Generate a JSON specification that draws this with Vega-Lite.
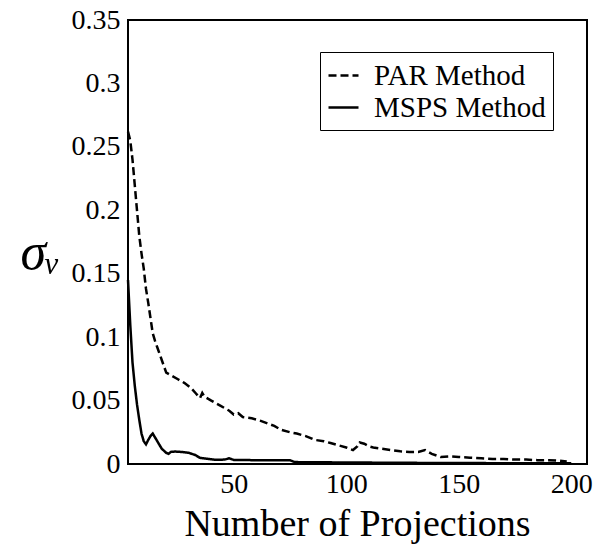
{
  "$schema": "https://vega.github.io/schema/vega-lite/v6.json",
  "width": 459,
  "height": 444,
  "autosize": {"type": "none"},
  "padding": {"left": 128, "top": 20, "right": 15, "bottom": 88},
  "background": "white",
  "config": {"view": {"stroke": "black", "strokeWidth": 2}, "font": "Liberation Serif"},
  "data": {"values": [
    {"n": 3, "v": 0.262, "m": "PAR Method"},
    {"n": 4, "v": 0.255, "m": "PAR Method"},
    {"n": 5, "v": 0.24, "m": "PAR Method"},
    {"n": 6, "v": 0.22, "m": "PAR Method"},
    {"n": 7, "v": 0.2, "m": "PAR Method"},
    {"n": 8, "v": 0.18, "m": "PAR Method"},
    {"n": 9, "v": 0.166, "m": "PAR Method"},
    {"n": 10, "v": 0.154, "m": "PAR Method"},
    {"n": 11, "v": 0.138, "m": "PAR Method"},
    {"n": 12, "v": 0.127, "m": "PAR Method"},
    {"n": 13, "v": 0.115, "m": "PAR Method"},
    {"n": 14, "v": 0.103, "m": "PAR Method"},
    {"n": 15, "v": 0.097, "m": "PAR Method"},
    {"n": 16, "v": 0.092, "m": "PAR Method"},
    {"n": 17, "v": 0.087, "m": "PAR Method"},
    {"n": 18, "v": 0.082, "m": "PAR Method"},
    {"n": 19, "v": 0.077, "m": "PAR Method"},
    {"n": 20, "v": 0.072, "m": "PAR Method"},
    {"n": 22, "v": 0.07, "m": "PAR Method"},
    {"n": 25, "v": 0.067, "m": "PAR Method"},
    {"n": 28, "v": 0.064, "m": "PAR Method"},
    {"n": 31, "v": 0.06, "m": "PAR Method"},
    {"n": 33, "v": 0.056, "m": "PAR Method"},
    {"n": 35, "v": 0.052, "m": "PAR Method"},
    {"n": 36, "v": 0.056, "m": "PAR Method"},
    {"n": 37, "v": 0.053, "m": "PAR Method"},
    {"n": 40, "v": 0.05, "m": "PAR Method"},
    {"n": 44, "v": 0.046, "m": "PAR Method"},
    {"n": 48, "v": 0.042, "m": "PAR Method"},
    {"n": 50, "v": 0.039, "m": "PAR Method"},
    {"n": 52, "v": 0.04, "m": "PAR Method"},
    {"n": 54, "v": 0.037, "m": "PAR Method"},
    {"n": 58, "v": 0.036, "m": "PAR Method"},
    {"n": 62, "v": 0.034, "m": "PAR Method"},
    {"n": 65, "v": 0.032, "m": "PAR Method"},
    {"n": 68, "v": 0.03, "m": "PAR Method"},
    {"n": 71, "v": 0.027, "m": "PAR Method"},
    {"n": 75, "v": 0.025, "m": "PAR Method"},
    {"n": 78, "v": 0.024, "m": "PAR Method"},
    {"n": 82, "v": 0.022, "m": "PAR Method"},
    {"n": 86, "v": 0.019, "m": "PAR Method"},
    {"n": 90, "v": 0.018, "m": "PAR Method"},
    {"n": 93, "v": 0.0165, "m": "PAR Method"},
    {"n": 96, "v": 0.015, "m": "PAR Method"},
    {"n": 100, "v": 0.013, "m": "PAR Method"},
    {"n": 103, "v": 0.011, "m": "PAR Method"},
    {"n": 105, "v": 0.014, "m": "PAR Method"},
    {"n": 106, "v": 0.017, "m": "PAR Method"},
    {"n": 108, "v": 0.016, "m": "PAR Method"},
    {"n": 110, "v": 0.014, "m": "PAR Method"},
    {"n": 112, "v": 0.013, "m": "PAR Method"},
    {"n": 116, "v": 0.012, "m": "PAR Method"},
    {"n": 120, "v": 0.011, "m": "PAR Method"},
    {"n": 124, "v": 0.01, "m": "PAR Method"},
    {"n": 128, "v": 0.0095, "m": "PAR Method"},
    {"n": 132, "v": 0.0095, "m": "PAR Method"},
    {"n": 135, "v": 0.011, "m": "PAR Method"},
    {"n": 138, "v": 0.008, "m": "PAR Method"},
    {"n": 142, "v": 0.0055, "m": "PAR Method"},
    {"n": 146, "v": 0.006, "m": "PAR Method"},
    {"n": 150, "v": 0.0055, "m": "PAR Method"},
    {"n": 155, "v": 0.005, "m": "PAR Method"},
    {"n": 160, "v": 0.0045, "m": "PAR Method"},
    {"n": 165, "v": 0.004, "m": "PAR Method"},
    {"n": 170, "v": 0.004, "m": "PAR Method"},
    {"n": 175, "v": 0.0035, "m": "PAR Method"},
    {"n": 180, "v": 0.0035, "m": "PAR Method"},
    {"n": 185, "v": 0.003, "m": "PAR Method"},
    {"n": 190, "v": 0.003, "m": "PAR Method"},
    {"n": 195, "v": 0.0025, "m": "PAR Method"},
    {"n": 198, "v": 0.002, "m": "PAR Method"},
    {"n": 3, "v": 0.145, "m": "MSPS Method"},
    {"n": 4, "v": 0.11, "m": "MSPS Method"},
    {"n": 5, "v": 0.08, "m": "MSPS Method"},
    {"n": 6, "v": 0.062, "m": "MSPS Method"},
    {"n": 7, "v": 0.047, "m": "MSPS Method"},
    {"n": 8, "v": 0.035, "m": "MSPS Method"},
    {"n": 9, "v": 0.024, "m": "MSPS Method"},
    {"n": 10, "v": 0.018, "m": "MSPS Method"},
    {"n": 11, "v": 0.0155, "m": "MSPS Method"},
    {"n": 12, "v": 0.019, "m": "MSPS Method"},
    {"n": 13, "v": 0.022, "m": "MSPS Method"},
    {"n": 14, "v": 0.024, "m": "MSPS Method"},
    {"n": 15, "v": 0.021, "m": "MSPS Method"},
    {"n": 16, "v": 0.018, "m": "MSPS Method"},
    {"n": 17, "v": 0.015, "m": "MSPS Method"},
    {"n": 18, "v": 0.012, "m": "MSPS Method"},
    {"n": 20, "v": 0.0088, "m": "MSPS Method"},
    {"n": 21, "v": 0.008, "m": "MSPS Method"},
    {"n": 22, "v": 0.0095, "m": "MSPS Method"},
    {"n": 24, "v": 0.0098, "m": "MSPS Method"},
    {"n": 27, "v": 0.0095, "m": "MSPS Method"},
    {"n": 30, "v": 0.0088, "m": "MSPS Method"},
    {"n": 33, "v": 0.007, "m": "MSPS Method"},
    {"n": 35, "v": 0.0048, "m": "MSPS Method"},
    {"n": 38, "v": 0.0042, "m": "MSPS Method"},
    {"n": 42, "v": 0.0033, "m": "MSPS Method"},
    {"n": 46, "v": 0.0035, "m": "MSPS Method"},
    {"n": 48, "v": 0.0045, "m": "MSPS Method"},
    {"n": 50, "v": 0.0032, "m": "MSPS Method"},
    {"n": 60, "v": 0.003, "m": "MSPS Method"},
    {"n": 75, "v": 0.003, "m": "MSPS Method"},
    {"n": 77, "v": 0.0015, "m": "MSPS Method"},
    {"n": 100, "v": 0.0012, "m": "MSPS Method"},
    {"n": 140, "v": 0.0008, "m": "MSPS Method"},
    {"n": 200, "v": 0.0005, "m": "MSPS Method"}
  ]},
  "mark": {"type": "line", "strokeWidth": 2.5, "color": "black"},
  "encoding": {
    "x": {
      "field": "n", "type": "quantitative",
      "scale": {"domain": [3, 207], "nice": false, "zero": false},
      "axis": {
        "values": [50, 100, 150, 200], "grid": false, "ticks": false, "domain": false,
        "labelFont": "Liberation Serif", "labelFontSize": 28, "labelColor": "black",
        "labelPadding": 6, "labelFlush": false,
        "title": "Number of Projections", "titleFont": "Liberation Serif", "titleFontSize": 38,
        "titleFontWeight": "normal", "titleColor": "black",
        "titleX": 229, "titleY": 71, "titleBaseline": "alphabetic", "titleAlign": "center"
      }
    },
    "y": {
      "field": "v", "type": "quantitative",
      "scale": {"domain": [0, 0.35], "nice": false},
      "axis": {
        "values": [0, 0.05, 0.1, 0.15, 0.2, 0.25, 0.3, 0.35], "format": "~f",
        "grid": false, "ticks": false, "domain": false,
        "labelFont": "Liberation Serif", "labelFontSize": 28, "labelColor": "black",
        "labelPadding": 8, "labelFlush": false,
        "title": "σᵥ", "titleFont": "Liberation Serif", "titleFontSize": 52,
        "titleFontStyle": "italic", "titleFontWeight": "normal", "titleColor": "black",
        "titleAngle": 0, "titleX": -88, "titleY": 232, "titleAlign": "center", "titleBaseline": "middle"
      }
    },
    "strokeDash": {
      "field": "m", "type": "nominal",
      "scale": {"domain": ["PAR Method", "MSPS Method"], "range": [[8, 4], [1, 0]]},
      "legend": {
        "orient": "none", "legendX": 192, "legendY": 32, "title": null,
        "strokeColor": "black", "padding": 7, "fillColor": "white",
        "symbolType": "stroke", "symbolSize": 900, "symbolStrokeWidth": 2.5, "symbolStrokeColor": "black",
        "labelFont": "Liberation Serif", "labelFontSize": 29, "labelColor": "black",
        "labelOffset": 14, "labelLimit": 300, "rowPadding": 0
      }
    }
  }
}
